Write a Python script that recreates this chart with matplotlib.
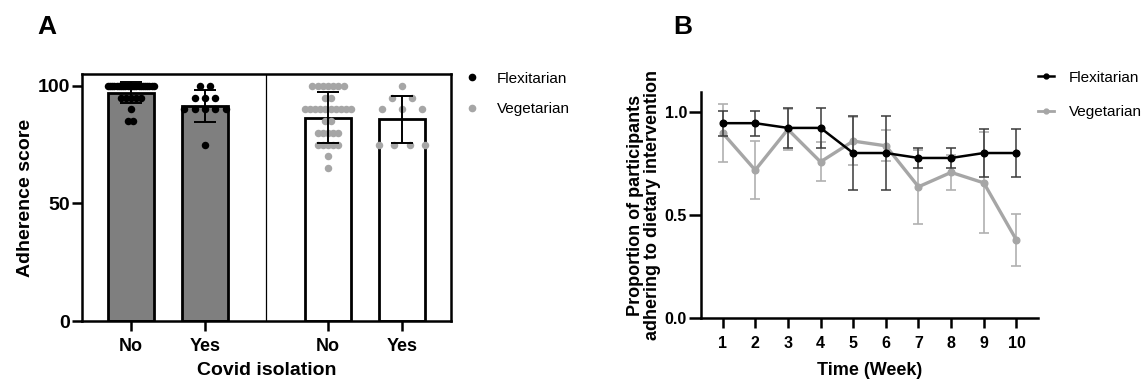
import numpy as np
import matplotlib
matplotlib.use("Agg")
import matplotlib.pyplot as plt
from matplotlib.lines import Line2D

plt.rcParams['font.family'] = ['Liberation Sans', 'DejaVu Sans']

# ---------------- Panel A data ----------------
a_groups = ["Flexitarian", "Flexitarian", "Vegetarian", "Vegetarian"]
a_ticklabels = ["No", "Yes", "No", "Yes"]
a_means = [97.0, 91.5, 86.5, 85.8]
a_sds = [4.4, 6.8, 10.8, 10.0]
# individual scores: (value, count)
flex_no_scores = [(100, 22), (95, 5), (90, 1), (85, 2)]
flex_yes_scores = [(100, 2), (95, 3), (90, 5), (75, 1)]
veg_no_scores = [(100, 7), (95, 2), (90, 10), (85, 2), (80, 5), (75, 5), (70, 1), (65, 1)]
veg_yes_scores = [(100, 1), (95, 2), (90, 3), (75, 4)]
a_scores = [flex_no_scores, flex_yes_scores, veg_no_scores, veg_yes_scores]

# ---------------- Panel B data ----------------
weeks = [1, 2, 3, 4, 5, 6, 7, 8, 9, 10]
flex_prop = [0.945, 0.945, 0.922, 0.922, 0.80, 0.80, 0.776, 0.776, 0.80, 0.80]
flex_err = [0.06, 0.06, 0.097, 0.097, 0.18, 0.18, 0.05, 0.05, 0.115, 0.115]
veg_prop = [0.898, 0.717, 0.915, 0.757, 0.858, 0.835, 0.636, 0.706, 0.655, 0.377]
veg_err = [0.142, 0.142, 0.10, 0.095, 0.115, 0.075, 0.18, 0.085, 0.245, 0.125]

# ---------------- style ----------------
BLACK = "#000000"
DARKGRAY = "#7f7f7f"
LIGHTGRAY = "#a6a6a6"

fig = plt.figure(figsize=(11.42, 3.81), dpi=100)

# ===== Panel A =====
axA = fig.add_axes([82/1142, 1-321/381, (451-82)/1142, (321-74)/381])
positions = [0, 1, 2.66, 3.66]
bar_w = 0.62
fills = [DARKGRAY, DARKGRAY, "white", "white"]
dot_colors = [BLACK, BLACK, LIGHTGRAY, LIGHTGRAY]
spacings = [0.07, 0.14, 0.07, 0.27]

axA.bar(positions, a_means, width=bar_w, color=fills, edgecolor=BLACK,
        linewidth=2.0, zorder=1)

for pos, scores, col, sp in zip(positions, a_scores, dot_colors, spacings):
    xs, ys = [], []
    for val, n in scores:
        if n == 1:
            offs = [0.0]
        else:
            s = min(sp, 0.62 / (n - 1))
            offs = (np.arange(n) - (n - 1) / 2) * s
        xs.extend(pos + np.asarray(offs))
        ys.extend([val] * n)
    axA.plot(xs, ys, "o", color=col, markersize=5.4, markeredgewidth=0, zorder=2)

axA.errorbar(positions, a_means, yerr=a_sds, fmt="none", ecolor=BLACK,
             elinewidth=1.4, capsize=8, capthick=1.4, zorder=3)

axA.axvline((positions[1] + positions[2]) / 2, color=BLACK, linewidth=0.9, zorder=0)

axA.set_xlim(-0.66, 4.32)
axA.set_ylim(0, 105)
axA.set_yticks([0, 50, 100])
axA.set_xticks(positions)
axA.set_xticklabels(a_ticklabels)
for sp_ in axA.spines.values():
    sp_.set_linewidth(1.8)
axA.tick_params(axis="y", width=1.8, length=7.5, labelsize=14, pad=1)
axA.tick_params(axis="x", width=1.8, length=7.5, labelsize=13, pad=5)
for lab in axA.get_xticklabels() + axA.get_yticklabels():
    lab.set_fontweight("bold")
axA.set_ylabel("Adherence score", fontsize=14, fontweight="bold", labelpad=3)
axA.set_xlabel("Covid isolation", fontsize=14, fontweight="bold", labelpad=4.5)

handlesA = [Line2D([], [], marker="o", linestyle="none", color=BLACK, markersize=4.5),
            Line2D([], [], marker="o", linestyle="none", color=LIGHTGRAY, markersize=4.5)]
fig.legend(handlesA, ["Flexitarian", "Vegetarian"], loc="upper left",
           bbox_to_anchor=(449/1142, 1-58/381), frameon=False, fontsize=11,
           handlelength=1.2, handletextpad=1.05, labelspacing=1.06)

fig.text(47/1142, 1-27/381, "A", fontsize=19, fontweight="bold", ha="center", va="center")

# ===== Panel B =====
axB = fig.add_axes([701/1142, 1-317.7/381, (1038-701)/1142, (317.7-92.3)/381])
axB.errorbar(weeks, veg_prop, yerr=veg_err, color=LIGHTGRAY, linewidth=2.4,
             marker="o", markersize=4.8, ecolor="#b0b0b0", elinewidth=1.2,
             capsize=3.5, capthick=1.2, zorder=2, label="Vegetarian")
axB.errorbar(weeks, flex_prop, yerr=flex_err, color=BLACK, linewidth=1.8,
             marker="o", markersize=4.8, ecolor="#3a3a3a", elinewidth=1.1,
             capsize=3.5, capthick=1.1, zorder=3, label="Flexitarian")
axB.set_xlim(0.34, 10.66)
axB.set_ylim(0, 1.095)
axB.set_xticks(weeks)
axB.set_yticks([0.0, 0.5, 1.0])
axB.yaxis.set_major_formatter(matplotlib.ticker.FormatStrFormatter("%.1f"))
axB.spines["top"].set_visible(False)
axB.spines["right"].set_visible(False)
for s in ["left", "bottom"]:
    axB.spines[s].set_linewidth(1.8)
axB.tick_params(axis="y", width=1.8, length=9, labelsize=11.5, pad=1)
axB.tick_params(axis="x", width=1.8, length=7, labelsize=11.5, pad=6)
for lab in axB.get_xticklabels() + axB.get_yticklabels():
    lab.set_fontweight("bold")
axB.set_ylabel("Proportion of participants\nadhering to dietary intervention",
               fontsize=13, fontweight="bold", labelpad=3, linespacing=0.95)
axB.set_xlabel("Time (Week)", fontsize=13, fontweight="bold", labelpad=8)

handlesB = [Line2D([], [], color=BLACK, linewidth=1.8, marker="o", markersize=3.5),
            Line2D([], [], color=LIGHTGRAY, linewidth=2.0, marker="o", markersize=3.5)]
fig.legend(handlesB, ["Flexitarian", "Vegetarian"], loc="upper left",
           bbox_to_anchor=(1024/1142, 1-57/381), frameon=False, fontsize=11,
           handlelength=1.05, handletextpad=1.0, labelspacing=1.33)

fig.text(683/1142, 1-27/381, "B", fontsize=19, fontweight="bold", ha="center", va="center")

fig.savefig("out.png", dpi=100)
